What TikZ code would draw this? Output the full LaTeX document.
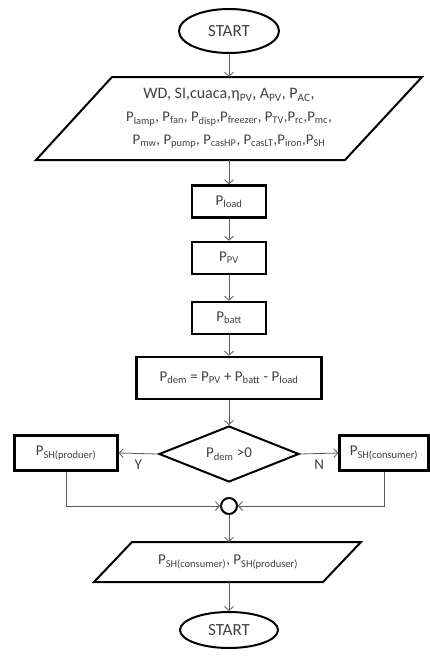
\documentclass[tikz,border=0pt]{standalone}
\usepackage{fontspec}
\setmainfont{Carlito}
\usetikzlibrary{arrows.meta,shapes.geometric,calc}
\definecolor{txt}{HTML}{404040}
\definecolor{conn}{HTML}{5a5a5a}
\newcommand{\sbt}[1]{\textsubscript{#1}}
\begin{document}
\begin{tikzpicture}[x=1pt,y=-1pt,
  every node/.style={text=txt, font=\fontsize{15}{17}\selectfont},
  term/.style={ellipse, draw=black, line width=2pt, minimum width=100pt, minimum height=42pt, inner sep=0pt},
  procbox/.style={rectangle, draw=black, line width=2.6pt, minimum height=32pt, inner sep=0pt},
  decide/.style={diamond, draw=black, line width=2pt, minimum width=140pt, minimum height=56pt, inner sep=0pt, aspect=2.5},
  parabox/.style={rectangle, inner sep=0pt, align=center},
  joint/.style={circle, draw=black, line width=2pt, minimum size=16pt, inner sep=0pt},
  arr/.style={draw=conn, line width=0.8pt, -{Straight Barb[length=4pt,width=9pt]}},
  shapeline/.style={draw=black, line width=2pt, line join=miter}
]
\useasboundingbox (0,0) rectangle (430,656);
% start
\node[term, minimum height=44pt] (start) at (229,31) {\fontsize{17}{19}\selectfont START};
% input parallelogram
\draw[shapeline] (112,77) -- (422,77) -- (345,160) -- (36,160) -- cycle;
\node[parabox, minimum height=83pt, font=\fontsize{14.8}{23}\selectfont] (in) at (229,118.5)
  {{\fontsize{16}{23}\selectfont WD, SI,cuaca,η\sbt{PV}, A\sbt{PV}, P\sbt{AC},}\\
   P\sbt{lamp}, P\sbt{fan}, P\sbt{disp},P\sbt{freezer}, P\sbt{TV},P\sbt{rc},P\sbt{mc},\\
   P\sbt{mw}, P\sbt{pump}, P\sbt{casHP}, P\sbt{casLT},P\sbt{iron},P\sbt{SH}};
% process boxes
\node[procbox, minimum width=74pt] (load) at (229,201.5) {P\sbt{load}};
\node[procbox, minimum width=74pt] (pv) at (229,258) {P\sbt{PV}};
\node[procbox, minimum width=74pt] (batt) at (229,318) {P\sbt{batt}};
\node[procbox, minimum width=185pt, minimum height=42pt] (dem) at (229,378)
  {P\sbt{dem} = P\sbt{PV} + P\sbt{batt} - P\sbt{load}};
% decision
\node[decide] (dec) at (229,454) {P\sbt{dem} >0};
\node[procbox, minimum width=103pt, minimum height=35pt] (prod) at (66,453) {P\sbt{SH(produer)}};
\node[procbox, minimum width=89pt, minimum height=35pt] (cons) at (384,453) {P\sbt{SH(consumer)}};
% junction
\node[joint] (circ) at (229,506) {};
% output parallelogram
\draw[shapeline] (132,542) -- (361,542) -- (323,582) -- (94,582) -- cycle;
\node[parabox, minimum height=40pt] (out) at (228,562)
  {P\sbt{SH(consumer)}, P\sbt{SH(produser)}};
% end
\node[term, minimum width=98pt, minimum height=36pt] (end) at (229,630) {\fontsize{17}{19}\selectfont START};
% connectors
\draw[arr] (start.south) -- (start.south |- in.north);
\draw[arr] (load.north |- in.south) -- (load.north);
\draw[arr] (load.south) -- (pv.north);
\draw[arr] (pv.south) -- (batt.north);
\draw[arr] (batt.south) -- (dem.north);
\draw[arr] (dem.south) -- (dec.north);
\draw[arr] (dec.west) -- (prod.east) node[midway, below=3pt] {Y};
\draw[arr] (dec.east) -- (cons.west) node[midway, below=3pt] {N};
\draw[arr] (prod.south) |- (circ.west);
\draw[arr] (cons.south) |- (circ.east);
\draw[arr] (circ.south) -- (circ.south |- out.north);
\draw[arr] (end.north |- out.south) -- (end.north);
\end{tikzpicture}
\end{document}
